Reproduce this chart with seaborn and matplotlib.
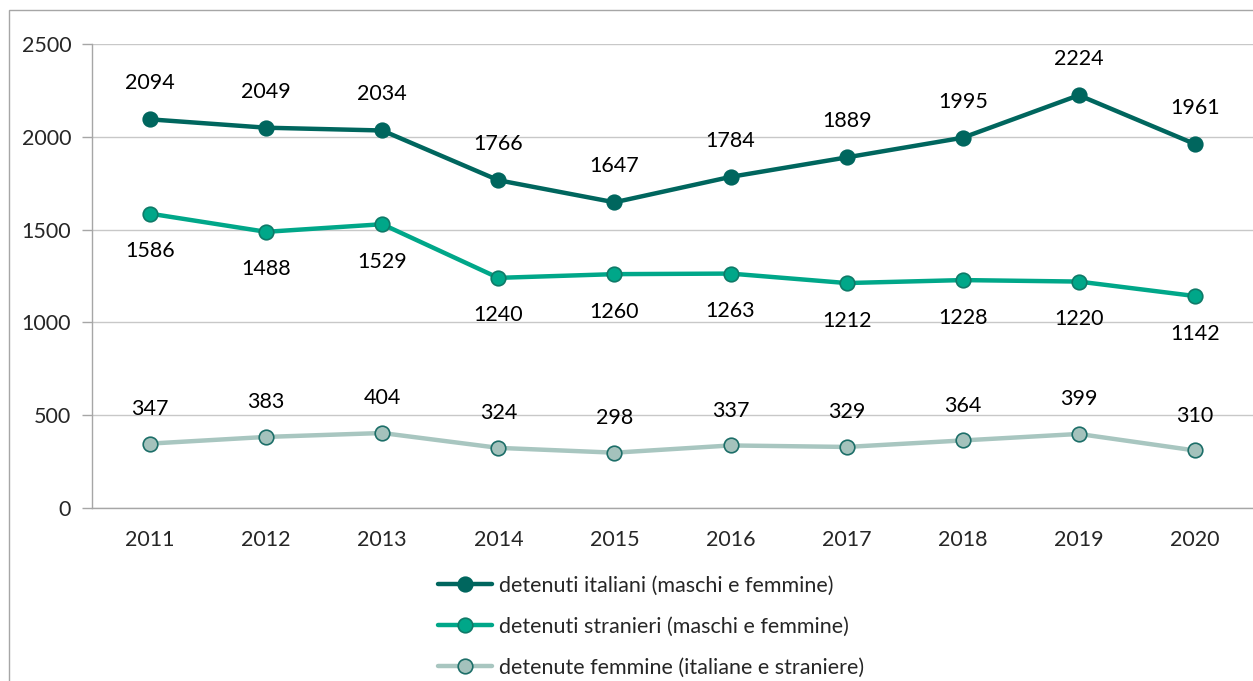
import matplotlib
matplotlib.use("Agg")
import matplotlib.pyplot as plt
import seaborn as sns
from matplotlib.patches import Rectangle
from matplotlib.ticker import FixedLocator

years = [2011, 2012, 2013, 2014, 2015, 2016, 2017, 2018, 2019, 2020]
italiani = [2094, 2049, 2034, 1766, 1647, 1784, 1889, 1995, 2224, 1961]
stranieri = [1586, 1488, 1529, 1240, 1260, 1263, 1212, 1228, 1220, 1142]
femmine = [347, 383, 404, 324, 298, 337, 329, 364, 399, 310]

labels = [
    "detenuti italiani (maschi e femmine)",
    "detenuti stranieri (maschi e femmine)",
    "detenute femmine (italiane e straniere)",
]

sns.set_theme(style="white")
plt.rcParams["font.family"] = ["Lato", "DejaVu Sans"]
FS = 15.5

fig = plt.figure(figsize=(12.53, 6.81), dpi=100)
ax = fig.add_axes([92 / 1253, 1 - 508 / 681, 1 - 92 / 1253, 464 / 681])

# (values, line colour, marker face, marker edge, label offset in points)
series = [
    (italiani, "#00665E", "#00665E", "#00665E", 26),
    (stranieri, "#00A789", "#00A789", "#0E7A68", -27),
    (femmine, "#A8C6C0", "#A4C2BC", "#1C6E68", 25),
]

for (vals, lc, mf, me, off), lab in zip(series, labels):
    sns.lineplot(x=years, y=vals, ax=ax, color=lc, linewidth=3.2,
                 marker="o", markersize=14.5, markerfacecolor=mf,
                 markeredgecolor=me, markeredgewidth=1.2, label=lab)
    for x, y in zip(years, vals):
        ax.annotate(str(y), (x, y), xytext=(0, off), textcoords="offset points",
                    ha="center", va="center", fontsize=FS, color="black")

ax.set_xlim(2010.5, 2020.5)
ax.set_ylim(0, 2500)
ax.set_yticks([0, 500, 1000, 1500, 2000, 2500])
ax.set_xticks(years)
ax.xaxis.set_minor_locator(FixedLocator([y + 0.5 for y in range(2010, 2020)]))
ax.tick_params(axis="x", which="major", length=0, labelsize=FS, pad=16)
ax.tick_params(axis="x", which="minor", length=7, width=1, color="#A6A6A6",
               direction="out")
ax.tick_params(axis="y", length=7, width=1, color="#A6A6A6", labelsize=FS,
               pad=8, left=True)
ax.grid(axis="y", color="#C8C8C8", linewidth=1)
ax.grid(axis="x", visible=False)
for s in ["top", "right"]:
    ax.spines[s].set_visible(False)
for s in ["left", "bottom"]:
    ax.spines[s].set_color("#A6A6A6")
    ax.spines[s].set_linewidth(1)

ax.get_legend().remove()
handles, labs = ax.get_legend_handles_labels()
for h in handles:
    h.set_markersize(10.5)
fig.legend(handles, labs, loc="upper center", bbox_to_anchor=(651 / 1253, 1 - 556 / 681),
           frameon=False, fontsize=FS, handlelength=2.5, handletextpad=0.3,
           labelspacing=0.98)

fig.patches.append(Rectangle((9 / 1253, -0.1), 1.2, 1 - 10 / 681 + 0.1,
                             transform=fig.transFigure, fill=False,
                             edgecolor="#A6A6A6", linewidth=1))

fig.savefig("out.png", dpi=100)
